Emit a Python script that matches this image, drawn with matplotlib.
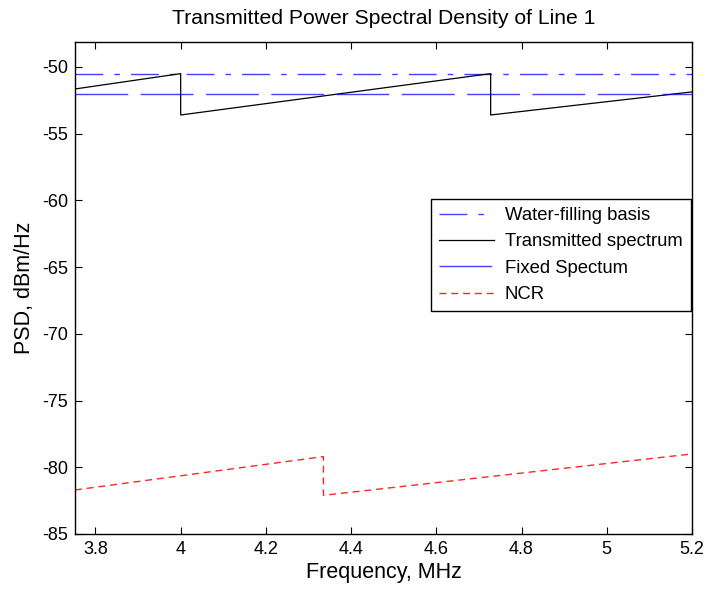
import numpy as np
import matplotlib
matplotlib.use('Agg')
import matplotlib.pyplot as plt

plt.rcParams['font.family'] = ['Liberation Sans', 'DejaVu Sans']
plt.rcParams['axes.unicode_minus'] = False

# levels (dBm/Hz)
waterfill_level = -50.5
fixed_level = -52.0

# transmitted spectrum, sawtooth breakpoints (MHz, dBm/Hz)
tx_freq = [3.752, 4.0, 4.0, 4.7275, 4.7275, 5.2]
tx_psd = [-51.65, -50.5, -53.6, -50.5, -53.6, -51.87]

# NCR breakpoints
ncr_freq = [3.752, 4.335, 4.335, 5.2]
ncr_psd = [-81.7, -79.2, -82.1, -79.0]

xlim = (3.752, 5.2)

fig = plt.figure(figsize=(7.07, 5.95), dpi=100)
ax = fig.add_axes([75 / 707, 1 - 534 / 595, 617 / 707, 492 / 595])

ax.plot(xlim, [waterfill_level] * 2, color='#0000ff', lw=1, alpha=0.75,
        dashes=(20, 8, 4, 8), label='Water-filling basis')
ax.plot(tx_freq, tx_psd, color='k', lw=0.9, label='Transmitted spectrum')
ax.plot(xlim, [fixed_level] * 2, color='#0000ff', lw=1, alpha=0.75,
        dashes=(38, 9), label='Fixed Spectum')
ax.plot(ncr_freq, ncr_psd, color='#ff0000', lw=1, alpha=0.85,
        dashes=(5, 3.5), label='NCR')

ax.set_xlim(*xlim)
ax.set_ylim(-85, -48.13)
ax.set_xticks([3.8, 4, 4.2, 4.4, 4.6, 4.8, 5, 5.2])
ax.set_xticklabels(['3.8', '4', '4.2', '4.4', '4.6', '4.8', '5', '5.2'])
ax.set_yticks(np.arange(-85, -49, 5))
ax.tick_params(direction='in', top=True, right=True, labelsize=13, length=5, pad=5)
for s in ax.spines.values():
    s.set_linewidth(1)

ax.set_title('Transmitted Power Spectral Density of Line 1', fontsize=15.2, pad=13)
ax.set_xlabel('Frequency, MHz', fontsize=15.5, labelpad=3)
ax.set_ylabel('PSD, dBm/Hz', fontsize=15.5, labelpad=5)

leg = ax.legend(loc='upper left', bbox_to_anchor=(0.577, 0.681), fontsize=13.3,
                frameon=True, fancybox=False, edgecolor='k', framealpha=1,
                handlelength=2.95, handletextpad=0.6, borderpad=0.45,
                labelspacing=0.5, borderaxespad=0)
leg.get_frame().set_linewidth(1)

fig.savefig('out.png', dpi=100)
